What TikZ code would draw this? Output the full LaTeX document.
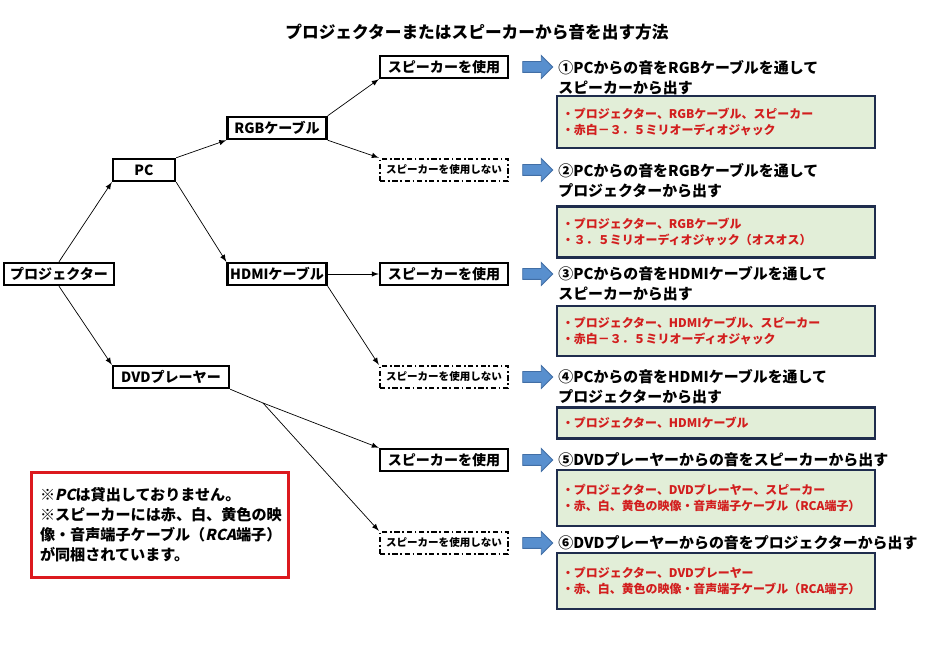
\documentclass[tikz,border=0pt]{standalone}
\usepackage{fontspec}
\setmainfont{Noto Sans CJK JP}
\newfontfamily\slantfont{Noto Sans CJK JP}[FakeSlant=0.2]
\usetikzlibrary{shapes.arrows}

\definecolor{arrowblue}{RGB}{88,143,206}
\definecolor{arrowline}{RGB}{65,110,165}
\definecolor{itemgreen}{RGB}{226,238,216}
\definecolor{navyline}{RGB}{31,45,77}
\definecolor{itemred}{RGB}{210,30,30}
\definecolor{notered}{RGB}{220,25,30}

\tikzset{
  tree/.style={draw, line width=1.4pt, inner sep=0pt, minimum height=0.44cm, font=\bfseries\fontsize{8}{9}\selectfont},
  spkbox/.style={tree, minimum width=2.56cm},
  nospkbox/.style={spkbox, dash pattern=on 3pt off 1.5pt on 1pt off 1.5pt, font=\bfseries\fontsize{6}{7}\selectfont},
  heading/.style={anchor=west, align=left, inner sep=0pt, font=\bfseries\fontsize{8.5}{11.3}\selectfont},
  itembox/.style={draw=navyline, line width=1.2pt, fill=itemgreen, text=itemred, text width=6.16cm, inner xsep=0.1cm, align=left, font=\bfseries\fontsize{6.8}{9}\selectfont},
  bluearrow/.style={single arrow, draw=arrowline, line width=0.5pt, fill=arrowblue, minimum height=0.6cm, inner xsep=0pt, inner ysep=0.1cm, single arrow head extend=0.12cm},
  link/.style={->, >=latex, line width=0.4pt}
}

\begin{document}
\begin{tikzpicture}[x=0.02cm, y=-0.02cm]
\useasboundingbox (0,0) rectangle (948,658);

\node[font=\bfseries\fontsize{9.5}{11}\selectfont] (title) at (477,32) {プロジェクターまたはスピーカーから音を出す方法};

% tree
\node[tree, minimum width=2.2cm] (proj) at (59,274) {プロジェクター};
\node[tree, minimum width=1.24cm] (pc) at (144,170) {PC};
\node[tree, minimum width=2.32cm] (dvd) at (171,377) {DVDプレーヤー};
\node[tree, minimum width=1.98cm] (rgb) at (277,128) {RGBケーブル};
\node[tree, minimum width=1.98cm] (hdmi) at (277,274) {HDMIケーブル};

\node[spkbox] (spk1) at (444,67) {スピーカーを使用};
\node[nospkbox] (nospk2) at (444,170) {スピーカーを使用しない};
\node[spkbox] (spk3) at (444,274) {スピーカーを使用};
\node[nospkbox] (nospk4) at (444,377) {スピーカーを使用しない};
\node[spkbox] (spk5) at (444,460) {スピーカーを使用};
\node[nospkbox] (nospk6) at (444,543) {スピーカーを使用しない};
\coordinate (split) at (263,403);

\draw[link] (proj.north) -- (pc.south west);
\draw[link] (proj.south) -- (dvd.north west);
\draw[link] (pc.north east) -- (rgb.south west);
\draw[link] (pc.south east) -- (hdmi.north west);
\draw[link] (rgb.north east) -- (spk1.south west);
\draw[link] (rgb.south east) -- (nospk2.north west);
\draw[link] (hdmi.east) -- (spk3.west);
\draw[link] (hdmi.south east) -- (nospk4.north west);
\draw[line width=0.4pt] (dvd.south east) -- (split);
\draw[link] (split) -- (spk5.north west);
\draw[link] (split) -- (nospk6.north west);

% blue arrows
\node[bluearrow] (ar1) at (535,67) {};
\node[bluearrow] (ar2) at (535,170) {};
\node[bluearrow] (ar3) at (535,274) {};
\node[bluearrow] (ar4) at (535,377) {};
\node[bluearrow] (ar5) at (535,460) {};
\node[bluearrow] (ar6) at (535,543) {};

% headings
\node[heading] (h1) at (558,78) {①PCからの音をRGBケーブルを通して\\スピーカーから出す};
\node[heading] (h2) at (558,181) {②PCからの音をRGBケーブルを通して\\プロジェクターから出す};
\node[heading] (h3) at (558,284) {③PCからの音をHDMIケーブルを通して\\スピーカーから出す};
\node[heading] (h4) at (558,387) {④PCからの音をHDMIケーブルを通して\\プロジェクターから出す};
\node[heading] (h5) at (558,460) {⑤DVDプレーヤーからの音をスピーカーから出す};
\node[heading] (h6) at (558,543) {⑥DVDプレーヤーからの音をプロジェクターから出す};

% item boxes
\node[itembox, minimum height=1.04cm] (item1) at (716,122) {・プロジェクター、RGBケーブル、スピーカー\\・赤白－３．５ミリオーディオジャック};
\node[itembox, minimum height=1.02cm] (item2) at (716,232) {・プロジェクター、RGBケーブル\\・３．５ミリオーディオジャック（オスオス）};
\node[itembox, minimum height=1.0cm] (item3) at (716,331) {・プロジェクター、HDMIケーブル、スピーカー\\・赤白－３．５ミリオーディオジャック};
\node[itembox, minimum height=0.62cm] (item4) at (716,423) {・プロジェクター、HDMIケーブル};
\node[itembox, minimum height=1.12cm] (item5) at (716,498) {・プロジェクター、DVDプレーヤー、スピーカー\\・赤、白、黄色の映像・音声端子ケーブル（RCA端子）};
\node[itembox, minimum height=1.12cm] (item6) at (716,581) {・プロジェクター、DVDプレーヤー\\・赤、白、黄色の映像・音声端子ケーブル（RCA端子）};

% note
\node[draw=notered, line width=1.7pt, minimum height=2.12cm, text width=4.8cm, inner xsep=0.18cm, align=left, font=\bfseries\fontsize{8.6}{11.3}\selectfont] (note) at (160,525) {※{\slantfont\bfseries PC}は貸出しておりません。\\※スピーカーには赤、白、黄色の映\\像・音声端子ケーブル（{\slantfont\bfseries RCA}端子）\\が同梱されています。};
\end{tikzpicture}
\end{document}
